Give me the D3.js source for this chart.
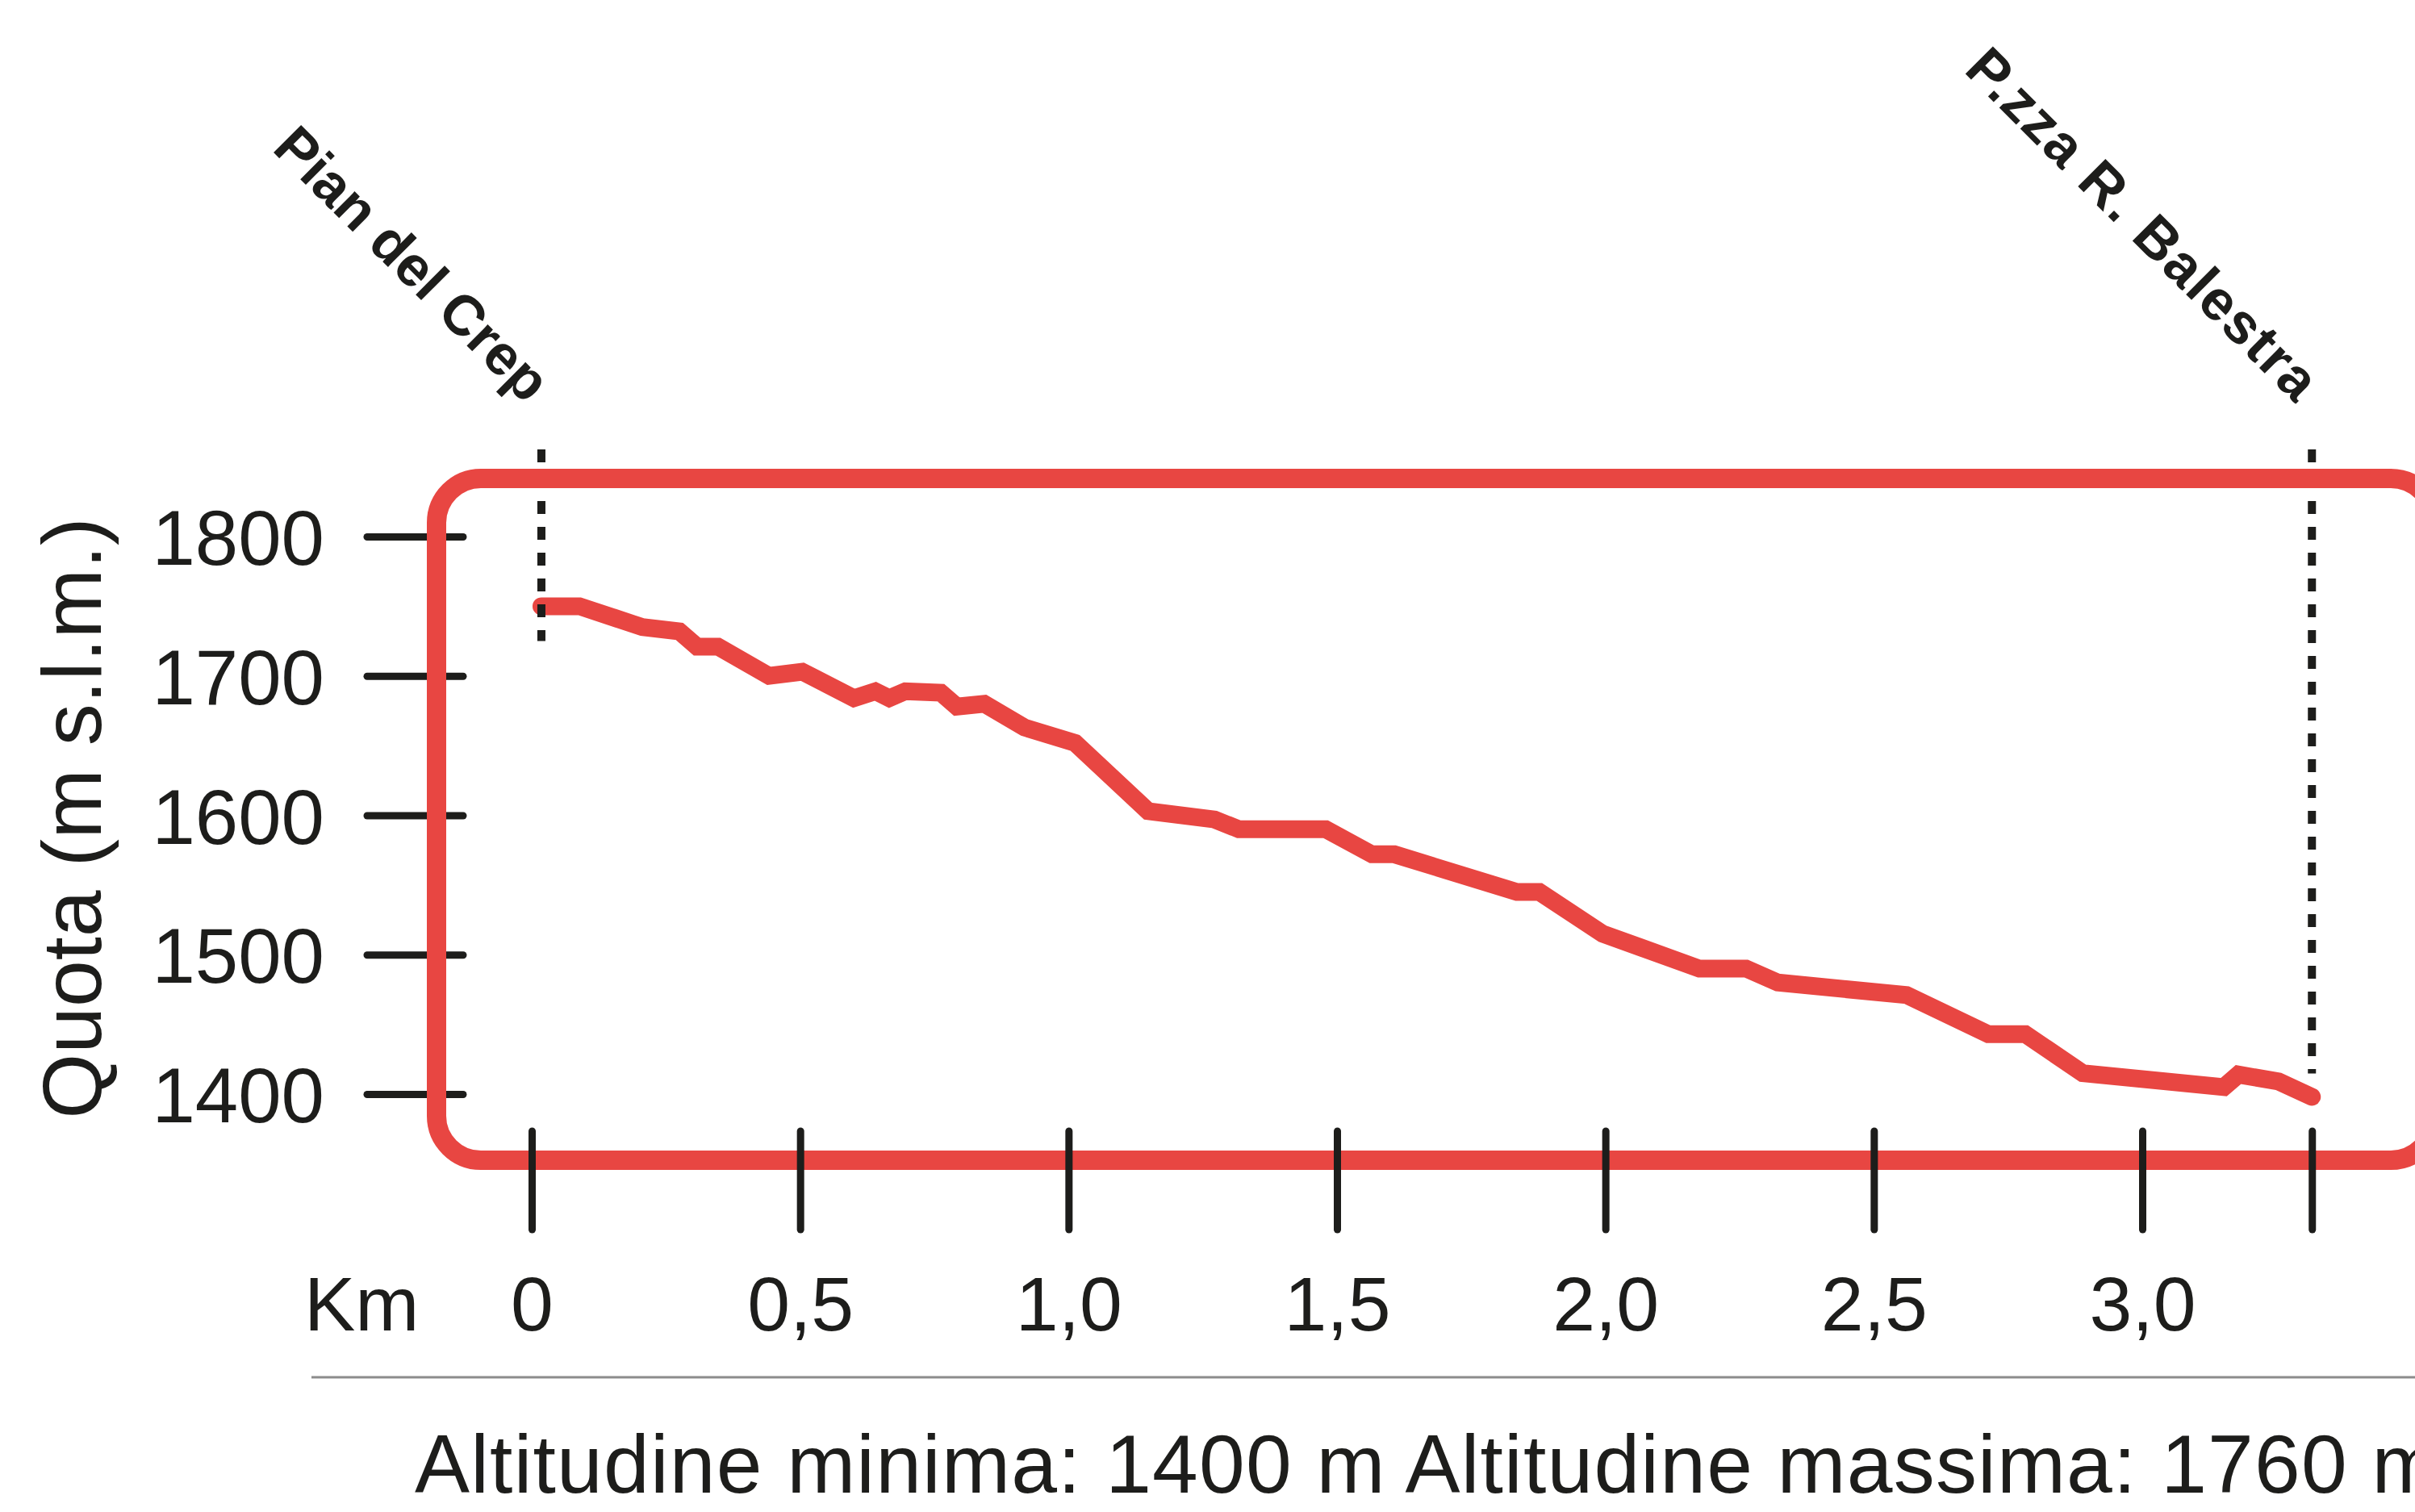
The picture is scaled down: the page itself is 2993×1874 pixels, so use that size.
<!DOCTYPE html>
<html>
<head>
<meta charset="utf-8">
<script src="https://cdn.jsdelivr.net/npm/d3@7"></script>
<style>
  html, body { margin: 0; padding: 0; background: #fff; }
  svg { display: block; font-family: "Liberation Sans", Arial, sans-serif; }
</style>
</head>
<body>
<svg id="chart"></svg>
<script>
// ---- Data ----
const distKm = [0.018, 0.089, 0.206, 0.275, 0.308, 0.347, 0.442, 0.504, 0.600, 0.640,
  0.666, 0.696, 0.762, 0.792, 0.843, 0.918, 1.012, 1.148, 1.272, 1.317,
  1.479, 1.565, 1.607, 1.835, 1.877, 1.995, 2.175, 2.262, 2.321, 2.561,
  2.713, 2.782, 2.889, 3.152, 3.179, 3.254, 3.316];
const elevM = [1750, 1750, 1735, 1732, 1721, 1721, 1700, 1703, 1684, 1689,
  1684, 1689, 1688, 1678, 1680, 1663, 1652, 1603, 1597, 1590,
  1590, 1572, 1572, 1545, 1545, 1515, 1490, 1490, 1480, 1471,
  1443, 1443, 1415, 1405, 1414, 1409, 1398];
const kmTicks = [0, 0.5, 1, 1.5, 2, 2.5, 3];
const altTicks = [1400, 1500, 1600, 1700, 1800];
const placeNames = ["Pian del Crep", "P.zza R. Balestra"];
const summaryText = "Altitudine minima: 1400 m Altitudine massima: 1760 m";

(function () {
  "use strict";

  const W = 2993, H = 1874;
  const RED = "#e84642", INK = "#1d1d1b";

  const svg = d3.select("#chart").attr("width", W).attr("height", H)
    .attr("viewBox", [0, 0, W, H]);
  svg.append("rect").attr("width", W).attr("height", H).attr("fill", "#fff");

  const x = d3.scaleLinear().domain([0, 3]).range([659, 2655]);
  const y = d3.scaleLinear().domain([1400, 1800]).range([1356, 665]);

  const startKm = distKm[0], endKm = distKm[distKm.length - 1];
  const pts = distKm.map((d, i) => ({ km: d, alt: elevM[i] }));

  // ---- Y axis (ticks sit under the frame) ----
  const yAxis = svg.append("g")
    .attr("transform", "translate(574,0)")
    .call(d3.axisLeft(y).tickValues(altTicks).tickSize(119).tickPadding(53)
      .tickFormat(d3.format("d")));
  yAxis.select(".domain").remove();
  yAxis.selectAll("line").attr("stroke", INK).attr("stroke-width", 9)
    .attr("stroke-linecap", "round");
  yAxis.selectAll("text").attr("fill", INK).attr("font-size", 96).attr("dy", "0.36em");

  svg.append("text")
    .attr("transform", "translate(125,1014) rotate(-90)")
    .attr("text-anchor", "middle")
    .attr("font-size", 104).attr("fill", INK)
    .text("Quota (m s.l.m.)");

  // ---- Profile ----
  const line = d3.line().x(d => x(d.km)).y(d => y(d.alt));
  svg.append("path").datum(pts)
    .attr("d", line)
    .attr("fill", "none").attr("stroke", RED).attr("stroke-width", 22)
    .attr("stroke-linecap", "round").attr("stroke-linejoin", "miter");

  // ---- Dotted markers at start and end ----
  const markTop = 557;
  const markers = [
    { km: startKm, bottom: y(elevM[0]) + 43 },
    { km: endKm, bottom: y(elevM[elevM.length - 1]) - 29 }
  ];
  svg.append("g").selectAll("line").data(markers).join("line")
    .attr("x1", d => x(d.km)).attr("x2", d => x(d.km))
    .attr("y1", markTop).attr("y2", d => d.bottom)
    .attr("stroke", INK).attr("stroke-width", 10)
    .attr("stroke-dasharray", "16,16");

  // ---- Red frame ----
  svg.append("rect")
    .attr("x", 541).attr("y", 593)
    .attr("width", 2477).attr("height", 845)
    .attr("rx", 55).attr("ry", 55)
    .attr("fill", "none").attr("stroke", RED).attr("stroke-width", 24);

  // ---- X axis (ticks over the frame) ----
  const fmtKm = d => (d === 0 ? "0" : kmTicks.includes(d) ? d.toFixed(1).replace(".", ",") : "");
  const xAxis = svg.append("g")
    .attr("transform", "translate(0,1402)")
    .call(d3.axisBottom(x).tickValues(kmTicks.concat([endKm])).tickSize(122)
      .tickPadding(58).tickFormat(fmtKm));
  xAxis.select(".domain").remove();
  xAxis.selectAll("line").attr("stroke", INK).attr("stroke-width", 9)
    .attr("stroke-linecap", "round");
  xAxis.selectAll("text").attr("fill", INK).attr("font-size", 95);

  svg.append("text")
    .attr("x", 377).attr("y", 1649)
    .attr("font-size", 95).attr("fill", INK)
    .text("Km");

  // ---- Place names ----
  svg.append("g").selectAll("text").data([startKm, endKm]).join("text")
    .attr("transform", d => `translate(${x(d) - 19},502) rotate(45)`)
    .attr("text-anchor", "end")
    .attr("font-size", 70).attr("font-weight", "bold").attr("fill", INK)
    .attr("letter-spacing", (d, i) => (i === 1 ? 2 : 0))
    .text((d, i) => placeNames[i]);

  // ---- Separator and summary ----
  svg.append("line")
    .attr("x1", 386).attr("x2", W).attr("y1", 1707).attr("y2", 1707)
    .attr("stroke", "#8c8c8c").attr("stroke-width", 3);

  svg.append("text")
    .attr("x", 514).attr("y", 1850)
    .attr("font-size", 102).attr("letter-spacing", 1.2).attr("fill", INK)
    .text(summaryText);
})();
</script>
</body>
</html>
